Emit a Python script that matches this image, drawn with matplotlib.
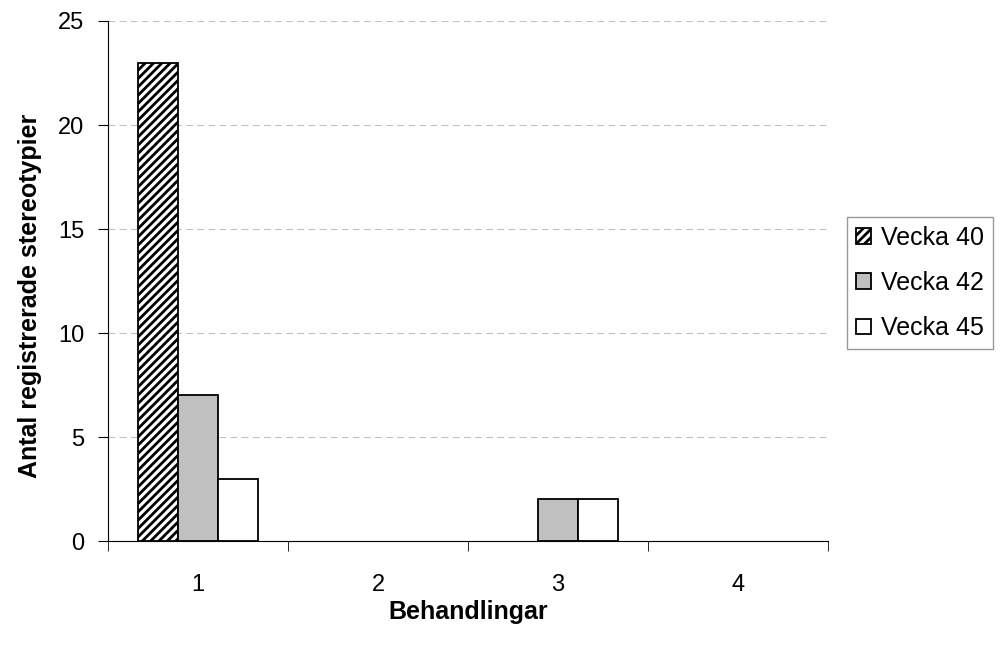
import numpy as np
import matplotlib.pyplot as plt

plt.rcParams['font.family'] = ['Liberation Sans', 'DejaVu Sans']
plt.rcParams['hatch.linewidth'] = 2.0

categories = ["1", "2", "3", "4"]
series = ["Vecka 40", "Vecka 42", "Vecka 45"]
v40 = [23, 0, 0, 0]
v42 = [7, 0, 2, 0]
v45 = [3, 0, 2, 0]

fig = plt.figure(figsize=(10, 6.46), dpi=100)
ax = fig.add_axes([0.108, 0.1625, 0.72, 0.8050])

x = np.arange(len(categories))
w = 0.222


def edge_widths(vals):
    # no outline for empty bars
    return [1.3 if v > 0 else 0 for v in vals]


ax.bar(x - w, v40, w, facecolor="white", edgecolor="black", hatch="////",
       linewidth=edge_widths(v40), label=series[0], zorder=3)
ax.bar(x, v42, w, facecolor="#c0c0c0", edgecolor="black",
       linewidth=edge_widths(v42), label=series[1], zorder=3)
ax.bar(x + w, v45, w, facecolor="white", edgecolor="black",
       linewidth=edge_widths(v45), label=series[2], zorder=3)

ax.set_xlim(-0.5, len(categories) - 0.5)
ax.set_ylim(0, 25)
ax.set_yticks(range(0, 26, 5))
ax.set_xticks(x)
ax.set_xticklabels(categories)
ax.set_xticks(np.arange(-0.5, len(categories)), minor=True)
ax.tick_params(axis="x", which="major", length=0, pad=24, labelsize=17)
ax.tick_params(axis="x", which="minor", length=7, direction="out")
ax.tick_params(axis="y", length=7, direction="out", labelsize=17, pad=10)

ax.yaxis.grid(True, linestyle=(0, (6, 4)), color="#c0c0c0", linewidth=0.8, zorder=0)
ax.spines["top"].set_visible(False)
ax.spines["right"].set_visible(False)

ax.set_xlabel("Behandlingar", fontsize=18, fontweight="bold")
ax.set_ylabel("Antal registrerade stereotypier", fontsize=18, fontweight="bold")
ax.xaxis.set_label_coords(0.5, -0.113)
ax.yaxis.set_label_coords(-0.092, 0.472)

leg = fig.legend(*ax.get_legend_handles_labels(), loc="upper left",
                 bbox_to_anchor=(0.847, 0.664), borderaxespad=0, fontsize=18,
                 frameon=True, fancybox=False, edgecolor="#808080",
                 handlelength=0.6, handleheight=0.6, handletextpad=0.4,
                 labelspacing=0.85, borderpad=0.35)
leg.get_frame().set_linewidth(1.0)

fig.savefig("out.png", dpi=100)
